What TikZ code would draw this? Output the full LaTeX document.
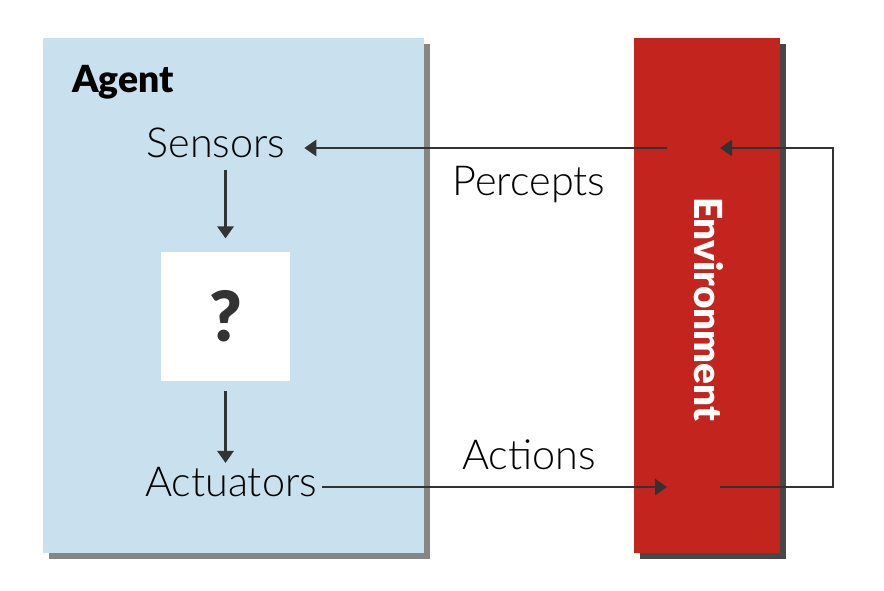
\documentclass[tikz,border=0pt]{standalone}
\usepackage{fontspec}
\setmainfont{Lato}[UprightFont=* Light, BoldFont=* Black]
\usepackage{tikz}
\usetikzlibrary{arrows.meta,positioning}
\definecolor{agentblue}{HTML}{C9E0EE}
\definecolor{envred}{HTML}{C4241E}
\definecolor{linegray}{HTML}{333333}
\tikzstyle{label} = [inner sep=0pt, font=\fontsize{31}{36}\selectfont, text=black]
\tikzstyle{arrow} = [line width=2.2pt, draw=linegray, -{Triangle[length=9pt,width=12pt]}]

\begin{document}
\begin{tikzpicture}[x=0.75pt, y=-0.75pt]
  \useasboundingbox (0,0) rectangle (884,590);
  % shadows
  \fill[gray!95] (49,44) rectangle (430,559);
  \fill[black!72] (640,44) rectangle (786,559);
  % panels
  \fill[agentblue] (43,38) rectangle (424,553);
  \fill[envred] (634,38) rectangle (780,553);
  \node (agent)[inner sep=0pt, font=\fontsize{28}{32}\bfseries\selectfont] at (123,82) {Agent};
  \node (env)[inner sep=0pt, rotate=-90, text=white, font=\fontsize{29}{32}\bfseries\selectfont] at (709,309) {Environment};
  \node (sensors)[label] at (216,143) {Sensors};
  \node (actuators)[label] at (231,482) {Actuators};
  \node (box)[fill=white, minimum width=96.75pt, minimum height=96.75pt, inner sep=0pt] at (225.5,316.5) {};
  \node (qmark)[font=\fontsize{52}{56}\bfseries\selectfont, text=linegray] at (box) {?};
  \node (percepts)[label] at (529,185) {Percepts};
  \node (actions)[label] at (529,455) {Actions};
  \coordinate (percfrom) at (667,148);
  \coordinate (envin) at (720,148);
  \coordinate (envout) at (720,487);
  \coordinate (actto) at (667,487);
  \coordinate (loopa) at (833,487);
  \coordinate (loopb) at (833,148);
  % connectors
  \draw [arrow, shorten >=14pt] (percfrom) -- (sensors.east |- percfrom);
  \draw [arrow, shorten <=9pt, shorten >=10pt] (sensors.south -| box.north) -- (box.north);
  \draw [arrow, shorten <=7.5pt, shorten >=3pt] (box.south) -- (actuators.north -| box.south);
  \draw [arrow, shorten <=4pt] (actuators.east |- actto) -- (actto);
  \draw [arrow] (envout) -- (loopa) -- (loopb) -- (envin);
\end{tikzpicture}
\end{document}
